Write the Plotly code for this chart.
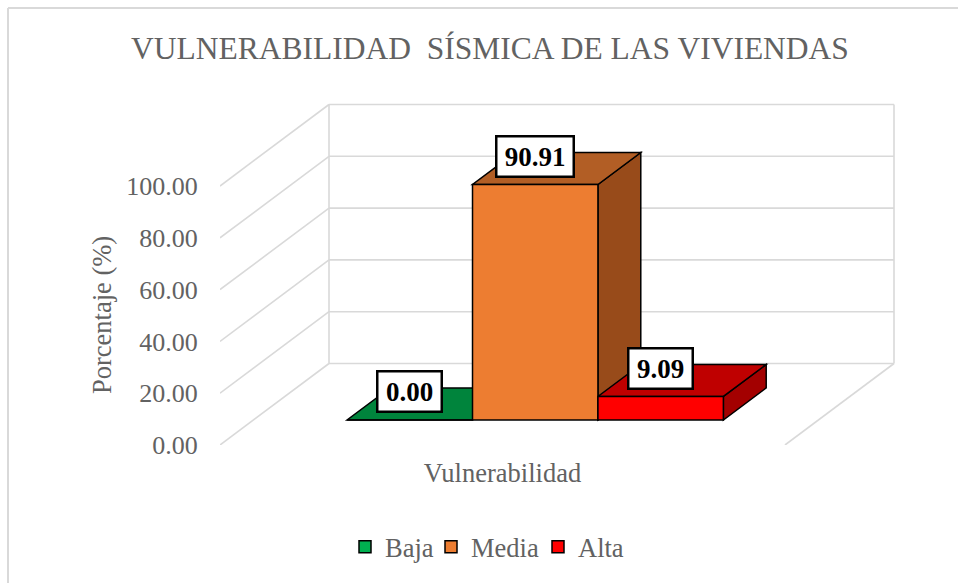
import plotly.graph_objects as go

# ---- data ----
categories = ["Baja", "Media", "Alta"]
values = [0.00, 90.91, 9.09]
tick_values = [0, 20, 40, 60, 80, 100]
tick_labels = ["0.00", "20.00", "40.00", "60.00", "80.00", "100.00"]
group_label = "Vulnerabilidad"

front_colors = ["#00B050", "#ED7D31", "#FF0000"]
top_colors = ["#00843C", "#B25E25", "#BF0000"]
side_colors = ["#006A30", "#984B1A", "#A30000"]

FONT = "Liberation Serif"
GREY = "#626262"
GRID = "#D9D9D9"

W, H = 958, 583
L, R, T, B = 220, 63, 100, 138
px_per_unit_y = 2.59
floor_w = 565.0
plot_w, plot_h = W - L - R, H - T - B
x_max = plot_w / floor_w
y_max = plot_h / px_per_unit_y

# oblique depth of the 3-D box, in axis units
depth_x = 109 / floor_w
depth_y = 81.5 / px_per_unit_y


def proj(x, y, d):
    """Project floor position x, value y and depth d (0..1) onto the axes."""
    return x + d * depth_x, y + d * depth_y


def paper_x(p):
    return (p - L) / plot_w


def paper_y(p):
    return (H - B - p) / plot_h


def poly(points):
    return "M " + " L ".join(f"{a} {b}" for a, b in points) + " Z"


shapes = []


def line3d(a, b):
    (x0, y0), (x1, y1) = a, b
    shapes.append(dict(type="line", x0=x0, y0=y0, x1=x1, y1=y1, xref="x", yref="y",
                       layer="below", line=dict(color=GRID, width=1.6)))


# walls and gridlines
for v in tick_values:
    line3d(proj(0, v, 0), proj(0, v, 1))
    line3d(proj(0, v, 1), proj(1, v, 1))
line3d(proj(0, 0, 1), proj(0, 100, 1))
line3d(proj(1, 0, 1), proj(1, 100, 1))
line3d(proj(1, 0, 0), proj(1, 0, 1))

# chart frame
for x0, y0, x1, y1 in [(8, 8, 958, 8), (8, 8, 8, 583)]:
    shapes.append(dict(type="line", xref="paper", yref="paper",
                       x0=paper_x(x0), x1=paper_x(x1), y0=paper_y(y0), y1=paper_y(y1),
                       layer="below", line=dict(color=GRID, width=2)))

# bars
bar_w = 0.222
first_x = 0.1657
d0, d1 = 0.307, 0.70
traces = []
annotations = []
legend_text_px = [385, 471, 578]
for i, (name, val) in enumerate(zip(categories, values)):
    x0 = first_x + i * bar_w
    x1 = x0 + bar_w
    top = poly([proj(x0, val, d0), proj(x1, val, d0), proj(x1, val, d1), proj(x0, val, d1)])
    side = poly([proj(x1, 0, d0), proj(x1, val, d0), proj(x1, val, d1), proj(x1, 0, d1)])
    outline = dict(color="black", width=1.5)
    shapes.append(dict(type="path", path=side, xref="x", yref="y", layer="below",
                       fillcolor=side_colors[i], line=outline))
    shapes.append(dict(type="path", path=top, xref="x", yref="y", layer="below",
                       fillcolor=top_colors[i], line=outline))
    fx, base = proj((x0 + x1) / 2, 0, d0)
    legend_id = "legend" if i == 0 else f"legend{i + 1}"
    traces.append(go.Bar(x=[fx], y=[val], base=[base], width=[bar_w], name=name,
                         marker=dict(color=front_colors[i], line=outline),
                         legend=legend_id, showlegend=True, hoverinfo="skip"))
    annotations.append(dict(x=fx, y=base + val, xref="x", yref="y", yshift=28,
                            text=f"<b>{val:.2f}</b>", showarrow=False,
                            font=dict(family=FONT, size=27, color="black"),
                            width=[60, 73, 60][i], height=36,
                            align="center", valign="middle",
                            bgcolor="white", bordercolor="black", borderwidth=2.5, borderpad=1,
                            xanchor="center", yanchor="middle"))

annotations.append(dict(x=paper_x(102), y=paper_y(315), xref="paper", yref="paper",
                        text="Porcentaje (%)", textangle=-90, showarrow=False,
                        font=dict(family=FONT, size=26.5, color=GREY),
                        xanchor="center", yanchor="middle"))

fig = go.Figure(traces)

legends = {}
for i, px in enumerate(legend_text_px):
    key = "legend" if i == 0 else f"legend{i + 1}"
    legends[key] = dict(orientation="h", x=paper_x(px - 40), y=paper_y(547), xanchor="left",
                        yanchor="middle", bgcolor="rgba(0,0,0,0)",
                        font=dict(family=FONT, size=26.5, color=GREY))

fig.update_layout(
    width=W, height=H,
    margin=dict(l=L, r=R, t=T, b=B, pad=0),
    paper_bgcolor="white", plot_bgcolor="white",
    barmode="overlay",
    title=dict(text="VULNERABILIDAD  SÍSMICA DE LAS VIVIENDAS",
               x=490 / W, xanchor="center", y=1 - 48 / H, yanchor="middle",
               font=dict(family=FONT, size=31.5, color=GREY)),
    xaxis=dict(range=[0, x_max], tickmode="array", tickvals=[0.5], ticktext=[group_label],
               tickfont=dict(family=FONT, size=26.5, color=GREY), showgrid=False,
               zeroline=False, showline=False, ticks="outside", ticklen=4,
               tickcolor="rgba(0,0,0,0)"),
    yaxis=dict(range=[0, y_max], tickmode="array", tickvals=tick_values, ticktext=tick_labels,
               tickfont=dict(family=FONT, size=26, color=GREY), showgrid=False,
               zeroline=False, showline=False, ticks="outside", ticklen=16,
               tickcolor="rgba(0,0,0,0)"),
    shapes=shapes, annotations=annotations,
    **legends,
)

fig.write_html("out.html", config={"displayModeBar": False},
               post_script="document.body.style.margin='0';")
